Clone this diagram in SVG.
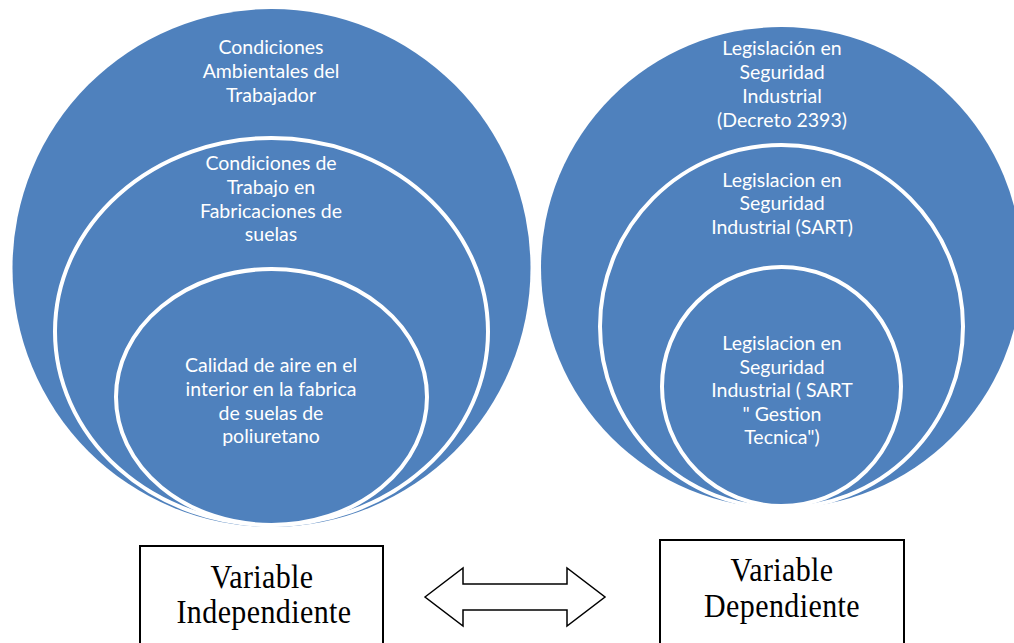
<svg xmlns="http://www.w3.org/2000/svg" width="1014" height="643" viewBox="0 0 1014 643">
<style>
.c{fill:#4f81bd}
.r{fill:#4f81bd;stroke:#fff;stroke-width:4}
.t{font-family:Lato,"Open Sans",sans-serif;font-size:19.5px;fill:#fff;text-anchor:middle}
.b{fill:#fff;stroke:#000;stroke-width:2}
.v{font-family:"Liberation Serif","Times New Roman",serif;font-size:30px;fill:#000;text-anchor:middle;letter-spacing:0.4px}
</style>
<rect width="1014" height="643" fill="#fff"/>
<g id="left-outer">
<circle class="c" cx="271.5" cy="268" r="259"/>
<text class="t" x="271" y="54">Condiciones</text>
<text class="t" x="271" y="78">Ambientales del</text>
<text class="t" x="271" y="102">Trabajador</text>
</g>
<g id="left-middle">
<ellipse class="r" cx="271.5" cy="331.5" rx="216.5" ry="193.5"/>
<text class="t" x="271" y="170">Condiciones de</text>
<text class="t" x="271" y="194">Trabajo en</text>
<text class="t" x="271" y="218">Fabricaciones de</text>
<text class="t" x="271" y="241">suelas</text>
</g>
<g id="left-inner">
<ellipse class="r" cx="271.5" cy="397" rx="155.5" ry="128"/>
<text class="t" x="271" y="372">Calidad de aire en el</text>
<text class="t" x="271" y="396">interior en la fabrica</text>
<text class="t" x="271" y="420">de suelas de</text>
<text class="t" x="271" y="443">poliuretano</text>
</g>
<g id="right-outer">
<circle class="c" cx="781.5" cy="267.5" r="240.5"/>
<text class="t" x="782" y="55">Legislación en</text>
<text class="t" x="782" y="79">Seguridad</text>
<text class="t" x="782" y="103">Industrial</text>
<text class="t" x="782" y="127">(Decreto 2393)</text>
</g>
<g id="right-middle">
<circle class="r" cx="781.5" cy="326.5" r="181.5"/>
<text class="t" x="782" y="187">Legislacion en</text>
<text class="t" x="782" y="210">Seguridad</text>
<text class="t" x="782" y="234">Industrial (SART)</text>
</g>
<g id="right-inner">
<circle class="r" cx="781.5" cy="386.5" r="119.5"/>
<text class="t" x="782" y="350">Legislacion en</text>
<text class="t" x="782" y="374">Seguridad</text>
<text class="t" x="782" y="397">Industrial ( SART</text>
<text class="t" x="782" y="421">" Gestion</text>
<text class="t" x="782" y="444">Tecnica")</text>
</g>
<g id="box-independiente">
<rect class="b" x="140" y="546" width="243" height="110"/>
<text class="v" transform="translate(262 588) scale(1 1.15)">Variable</text>
<text class="v" transform="translate(264 623) scale(1 1.15)">Independiente</text>
</g>
<g id="box-dependiente">
<rect class="b" x="660" y="540" width="244" height="110"/>
<text class="v" transform="translate(782 581) scale(1 1.15)">Variable</text>
<text class="v" transform="translate(782 617) scale(1 1.15)">Dependiente</text>
</g>
<g id="connectors">
<path d="M425 597 L463 568 L463 584 L567 584 L567 568 L605 597 L567 626 L567 610 L463 610 L463 626 Z" fill="#fff" stroke="#000" stroke-width="1.5" stroke-linejoin="miter"/>
</g>
</svg>
